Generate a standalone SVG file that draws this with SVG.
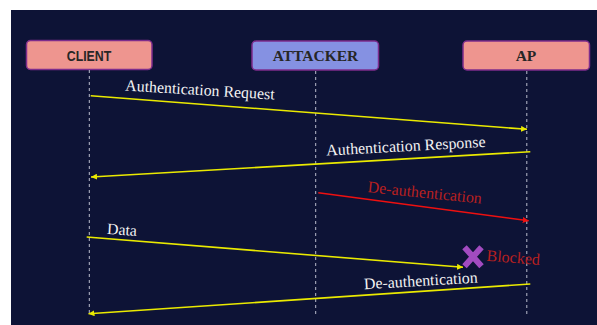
<svg xmlns="http://www.w3.org/2000/svg" width="597" height="325" viewBox="0 0 597 325">
<style>
.box{stroke:#7d2c8c;stroke-width:1.5}
.lbl{font-family:"Liberation Serif",serif;font-size:15.9px;fill:#f2f2f2}
.red{font-family:"Liberation Serif",serif;font-size:16px;fill:#b82020}
.life{stroke:#b9bccc;stroke-width:1;stroke-dasharray:3 3;fill:none}
.ym{stroke:#eaea00;stroke-width:1.6;fill:none}
.rm{stroke:#ee1010;stroke-width:1.6;fill:none}
</style>
<defs>
<marker id="ya" markerUnits="userSpaceOnUse" markerWidth="7" markerHeight="6" refX="6" refY="3" orient="auto"><path d="M0,0 L6,3 L0,6 z" fill="#eaea00"/></marker>
<marker id="ra" markerUnits="userSpaceOnUse" markerWidth="7" markerHeight="6" refX="6" refY="3" orient="auto"><path d="M0,0 L6,3 L0,6 z" fill="#ee1010"/></marker>
</defs>
<rect x="11" y="10" width="586" height="315" fill="#0d1336"/>
<g id="client">
<rect class="box" x="26.5" y="40.5" width="125.5" height="29" rx="4" fill="#ee958f"/>
<text x="89" y="60.5" text-anchor="middle" font-family="Liberation Sans, sans-serif" font-weight="bold" font-size="15" fill="#262626" textLength="44.5" lengthAdjust="spacingAndGlyphs">CLIENT</text>
</g>
<g id="attacker">
<rect class="box" x="252" y="41" width="126.5" height="29" rx="4" fill="#8591e2"/>
<text x="315.5" y="61" text-anchor="middle" font-family="Liberation Serif, serif" font-weight="bold" font-size="15.5" fill="#262626">ATTACKER</text>
</g>
<g id="ap">
<rect class="box" x="463" y="41" width="126.5" height="29" rx="4" fill="#ee958f"/>
<text x="526" y="61" text-anchor="middle" font-family="Liberation Serif, serif" font-weight="bold" font-size="15.5" fill="#262626">AP</text>
</g>
<g id="lifelines">
<line class="life" x1="89.3" y1="70" x2="89.3" y2="316"/>
<line class="life" x1="315.7" y1="71" x2="315.7" y2="316"/>
<line class="life" x1="526.8" y1="71" x2="526.8" y2="316"/>
</g>
<g id="connectors">
<line class="ym" x1="90.7" y1="95.7" x2="527" y2="129.3" marker-end="url(#ya)"/>
<line class="ym" x1="530.3" y1="151.7" x2="91" y2="177" marker-end="url(#ya)"/>
<line class="rm" x1="318.3" y1="192.7" x2="528.7" y2="220.7" marker-end="url(#ra)"/>
<line class="ym" x1="86.7" y1="237" x2="463" y2="267.3" marker-end="url(#ya)"/>
<line class="ym" x1="530.3" y1="284" x2="88.5" y2="313.7" marker-end="url(#ya)"/>
</g>
<g id="labels">
<text class="lbl" x="125" y="90.5" transform="rotate(3.5 125 90.5)">Authentication Request</text>
<text class="lbl" x="326.6" y="155.5" transform="rotate(-3.1 326.6 155.5)">Authentication Response</text>
<text class="red" x="367.3" y="192" transform="rotate(5.8 367.3 192)">De-authentication</text>
<text class="lbl" x="106.7" y="234" transform="rotate(3.5 106.7 234)">Data</text>
<text class="lbl" x="364.3" y="289.3" transform="rotate(-3.4 364.3 289.3)">De-authentication</text>
</g>
<g id="blocked">
<path d="M466.5,249.5 L479.5,264 M479.5,249.5 L466.5,264" stroke="#a24bc0" stroke-width="6" stroke-linecap="square" fill="none"/>
<text class="red" x="486.3" y="260.7" transform="rotate(4.6 486.3 260.7)">Blocked</text>
</g>
</svg>
